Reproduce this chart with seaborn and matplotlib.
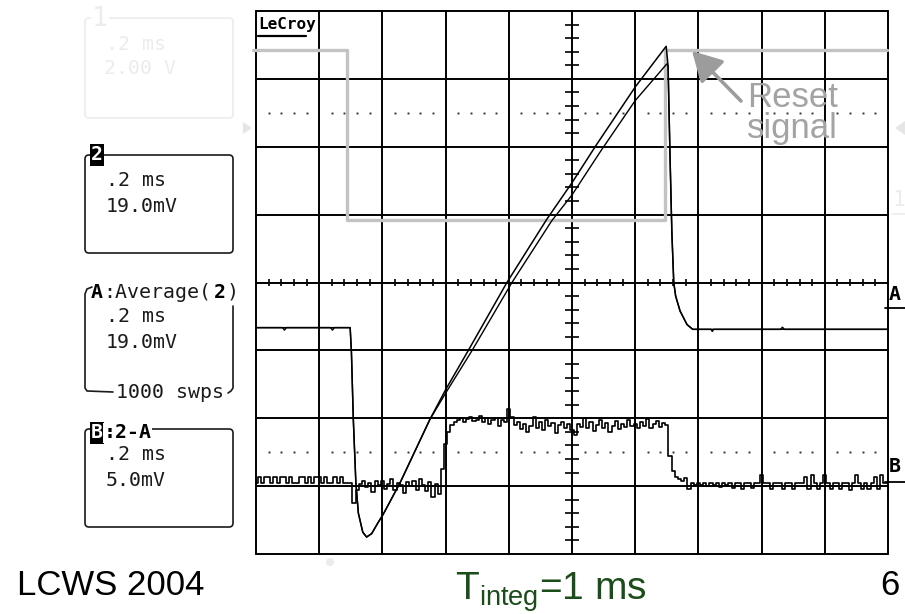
import numpy as np
import matplotlib
matplotlib.use("Agg")
import matplotlib.pyplot as plt
import seaborn as sns
from matplotlib.patches import FancyBboxPatch, Polygon

sns.set_theme(style="white")
plt.rcParams["font.family"] = ["DejaVu Sans"]

# ---------------- data (scope divisions: x 0..10, y -4..4) ----------------
reset_x = [-0.05, 1.445, 1.445, 6.47, 6.47, 9.98]
reset_y = [3.42, 3.42, 0.915, 0.915, 3.42, 3.42]

ch2_x = [0.0, 0.42, 0.45, 0.48, 1.18, 1.21, 1.24, 1.49, 1.51, 1.54, 1.58, 1.62,
         1.69, 1.75, 1.83, 1.93, 2.01, 2.28, 2.75, 3.00, 3.36, 3.97, 4.60, 5.00,
         5.38, 6.00, 6.49, 6.52, 6.55, 6.58, 6.61, 6.64, 6.71, 6.82, 6.91, 7.20,
         7.22, 7.24, 8.30, 8.33, 8.36, 9.00, 10.0]
ch2_y = [-0.665, -0.665, -0.70, -0.665, -0.665, -0.70, -0.665, -0.665, -1.03,
         -2.02, -2.95, -3.40, -3.68, -3.75, -3.70, -3.54, -3.42, -2.95, -2.02,
         -1.58, -1.00, 0.0, 0.93, 1.47, 2.02, 2.88, 3.48, 3.19, 1.90, 0.74, 0.0,
         -0.20, -0.42, -0.62, -0.69, -0.69, -0.72, -0.69, -0.69, -0.66, -0.69,
         -0.69, -0.69]

avg_x = [0.0, 1.49, 1.51, 1.54, 1.58, 1.62, 1.69, 1.75, 1.83, 1.93, 2.01, 2.28,
         2.75, 3.02, 3.42, 4.05, 4.68, 5.00, 5.45, 6.00, 6.50, 6.52, 6.55, 6.58,
         6.61, 6.64, 6.71, 6.82, 6.91, 10.0]
avg_y = [-0.665, -0.665, -1.03, -2.02, -2.95, -3.40, -3.68, -3.75, -3.70, -3.54,
         -3.42, -2.95, -2.02, -1.60, -1.00, 0.0, 0.91, 1.29, 1.93, 2.68, 3.22,
         3.19, 1.90, 0.74, 0.0, -0.20, -0.42, -0.62, -0.69, -0.69]

# B = 2 - A, sampled every 0.05 division
b_step = 0.05
b_y = [
    -2.95, -2.87, -2.95, -2.87, -2.87, -2.95, -2.87, -2.95, -2.87, -2.87,
    -2.95, -2.87, -2.95, -2.95, -2.87, -2.87, -2.95, -2.87, -2.95, -2.87,
    -2.87, -2.95, -2.87, -2.95, -2.95, -2.87, -2.95, -2.87, -2.95, -2.95,
    -2.95, -3.25, -3.05, -2.97, -2.92, -3.02, -2.96, -3.08, -2.93, -2.99,
    -2.92, -3.04, -2.97, -2.90, -3.06, -2.95, -2.99, -3.10, -2.94, -3.00,
    -2.93, -3.05, -2.90, -2.98, -3.07, -2.94, -3.16, -2.97, -3.12, -2.75,
    -2.38, -2.20, -2.10, -2.06, -2.03, -1.99, -2.05, -2.01, -1.98, -2.04,
    -2.02, -1.97, -2.06, -2.00, -2.08, -2.02, -1.99, -2.12, -2.03, -2.05,
    -1.87, -1.98, -2.10, -2.05, -2.16, -2.08, -2.20, -2.11, -1.98, -2.14,
    -2.06, -2.18, -2.03, -2.12, -2.07, -2.22, -2.10, -2.05, -2.14, -2.09,
    -2.17, -2.24, -2.08, -2.13, -1.99, -2.15, -2.06, -2.19, -2.10, -2.02,
    -2.14, -2.07, -2.20, -2.11, -2.04, -2.16, -2.09, -2.13, -2.03, -2.12,
    -2.08, -2.15, -2.06, -2.12, -2.01, -2.14, -2.09, -2.04, -2.13, -2.07,
    -2.10, -2.55, -2.78, -2.86, -2.90, -2.92, -2.88, -3.04, -2.95, -2.99,
    -2.96, -2.99, -2.95, -3.00, -2.96, -2.99, -2.95, -3.02, -2.96, -2.99,
    -2.95, -3.03, -2.96, -2.96, -3.04, -2.96, -2.96, -3.03, -2.96, -2.96,
    -2.84, -2.96, -2.96, -3.04, -2.96, -2.96, -2.96, -3.04, -2.96, -2.96,
    -3.04, -2.96, -2.96, -2.96, -2.86, -3.04, -2.84, -2.96, -3.04, -2.96,
    -2.84, -2.96, -3.04, -2.96, -2.96, -3.04, -2.96, -2.96, -3.05, -2.96,
    -2.84, -2.96, -3.04, -2.96, -3.04, -2.96, -2.87, -3.04, -2.84, -2.96,
    -2.96,
]
b_x = np.arange(len(b_y)) * b_step

# ---------------- figure ----------------
W, H = 905, 614
fig = plt.figure(figsize=(W / 100, H / 100), dpi=100)
fig.patch.set_facecolor("white")
L, R, T, B = 256, 888, 11, 554
ax = fig.add_axes([L / W, 1 - B / H, (R - L) / W, (B - T) / H])
ax.set_xlim(0, 10)
ax.set_ylim(-4, 4)
ax.axis("off")

grid_kw = dict(color="black", lw=1.4, zorder=1, clip_on=False)
for gx in range(11):
    ax.axvline(gx, **grid_kw)
for gy in range(-4, 5):
    ax.axhline(gy, **grid_kw)

sub_x = [k * 0.2 for k in range(51) if k % 5]
sub_y = [k * 0.2 for k in range(-20, 21) if k % 5]
ax.vlines(sub_x, -0.055, 0.055, color="black", lw=1.2, zorder=1)
ax.hlines(sub_y, 4.895, 5.105, color="black", lw=1.2, zorder=1)
for yy in (2.5, -2.5):
    ax.plot(sub_x, [yy] * len(sub_x), ls="none", marker="s", ms=1.4,
            color="#333333", mec="none", zorder=1)

# traces
sns.lineplot(x=reset_x, y=reset_y, ax=ax, sort=False, estimator=None,
             color="#c3c3c3", lw=2.4, zorder=2, clip_on=False)
sns.lineplot(x=avg_x, y=avg_y, ax=ax, sort=False, estimator=None,
             color="black", lw=1.0, zorder=3)
sns.lineplot(x=ch2_x, y=ch2_y, ax=ax, sort=False, estimator=None,
             color="black", lw=1.1, zorder=3)
sns.lineplot(x=b_x, y=b_y, ax=ax, sort=False, estimator=None,
             color="black", lw=1.2, zorder=3, drawstyle="steps-mid")

# ---------------- overlay in pixel coords ----------------
ov = fig.add_axes([0, 0, 1, 1])
ov.set_xlim(0, W)
ov.set_ylim(H, 0)
ov.axis("off")

mono = "DejaVu Sans Mono"
fs = 14.3
cw = 12.3  # char advance in px
faint = "#ececec"
ink = "#1a1a1a"

# LeCroy logo
ov.text(258, 25, "LeCroy", family=mono, weight="bold", fontsize=11.5,
        va="center", ha="left", color="black")
ov.plot([258, 306], [35.5, 35.5], color="black", lw=1.6)

# channel 1 (faint)
ov.add_patch(FancyBboxPatch((85, 18), 148, 100, boxstyle="round,pad=0,rounding_size=4",
                            fc="none", ec=faint, lw=1.2))
ov.text(92, 19, "1", family=mono, fontsize=19, color=faint, va="center", ha="left",
        bbox=dict(fc="white", ec="none", pad=0.5))
ov.text(106, 45, ".2 ms", family=mono, fontsize=fs, color=faint, va="center")
ov.text(104, 69, "2.00 V", family=mono, fontsize=fs, color=faint, va="center")
ov.add_patch(Polygon([[243, 122], [252, 128], [243, 134]], closed=True, fc="#e6e6e6", ec="none"))
ov.add_patch(Polygon([[905, 121], [895, 128], [905, 135]], closed=True, fc="#e6e6e6", ec="none"))
ov.text(892, 200, "1", family=mono, fontsize=15, color=faint, va="center")
ov.plot([892, 905], [214, 214], color=faint, lw=1.2)
ov.add_patch(plt.Circle((330, 562), 4, fc="#ececec", ec="none"))

# channel 2 box
ov.add_patch(FancyBboxPatch((85, 155), 148, 98, boxstyle="round,pad=0,rounding_size=4",
                            fc="none", ec=ink, lw=1.2))
ov.text(91, 155, "2", family=mono, weight="bold", fontsize=fs, color="white",
        va="center", ha="left", bbox=dict(fc="black", ec="none", pad=0.8))
ov.text(106, 181, ".2 ms", family=mono, fontsize=fs, color=ink, va="center")
ov.text(106, 207, "19.0mV", family=mono, fontsize=fs, color=ink, va="center")

# A : Average(2) bracket
ov.plot([92, 87, 85, 85, 87, 113], [287, 289, 294, 388, 391, 392], color=ink, lw=1.2)
ov.plot([233, 233, 231, 228], [306, 388, 391, 393], color=ink, lw=1.2)
ax_y = 292
ov.text(91, ax_y, "A", family=mono, weight="bold", fontsize=fs, color="black", va="center")
ov.text(91 + cw, ax_y, ":Average(", family=mono, fontsize=fs, color=ink, va="center")
ov.text(91 + 10 * cw, ax_y, "2", family=mono, weight="bold", fontsize=fs, color="black", va="center")
ov.text(91 + 11 * cw, ax_y, ")", family=mono, fontsize=fs, color=ink, va="center")
ov.text(106, 317, ".2 ms", family=mono, fontsize=fs, color=ink, va="center")
ov.text(106, 342, "19.0mV", family=mono, fontsize=fs, color=ink, va="center")
ov.text(116, 392, "1000 swps", family=mono, fontsize=fs, color=ink, va="center")

# B : 2-A box
ov.add_patch(FancyBboxPatch((85, 429), 148, 98, boxstyle="round,pad=0,rounding_size=4",
                            fc="none", ec=ink, lw=1.2))
ov.text(91, 433, "B", family=mono, weight="bold", fontsize=fs, color="white",
        va="center", ha="left", bbox=dict(fc="black", ec="none", pad=0.8))
ov.text(91 + cw, 433, ":2-A", family=mono, weight="bold", fontsize=fs, color="black",
        va="center", ha="left", bbox=dict(fc="white", ec="none", pad=0.5))
ov.text(106, 455, ".2 ms", family=mono, fontsize=fs, color=ink, va="center")
ov.text(106, 480, "5.0mV", family=mono, fontsize=fs, color=ink, va="center")

# right-edge trace markers
ov.text(889, 295, "A", family=mono, weight="bold", fontsize=fs, color="black", va="center")
ov.plot([885, 905], [308, 308], color="black", lw=1.3)
ov.text(889, 467, "B", family=mono, weight="bold", fontsize=fs, color="black", va="center")
ov.plot([885, 905], [482, 482], color="black", lw=1.3)

# Reset signal annotation
ov.annotate("", xy=(692, 51), xytext=(741, 101),
            arrowprops=dict(arrowstyle="-|>,head_length=0.9,head_width=0.5",
                            mutation_scale=20, lw=2.6, color="#9c9c9c",
                            shrinkA=0, shrinkB=0))
ov.text(747, 107, "Reset", family="Liberation Sans", fontsize=25, color="#a3a3a3",
        va="baseline", ha="left")
ov.text(747, 138, "signal", family="Liberation Sans", fontsize=25, color="#a3a3a3",
        va="baseline", ha="left")

# slide footer
ov.text(17, 595, "LCWS 2004", family="Liberation Sans", fontsize=25, color="black",
        va="baseline", ha="left")
ov.text(455, 600, r"T$_{\mathregular{integ}}$=1 ms", family="Liberation Sans",
        fontsize=28, color="#1b4d1b", va="baseline", ha="left")
ov.text(880, 595, "6", family="Liberation Sans", fontsize=25, color="black",
        va="baseline", ha="left")

fig.savefig("out.png", dpi=100, facecolor="white")
